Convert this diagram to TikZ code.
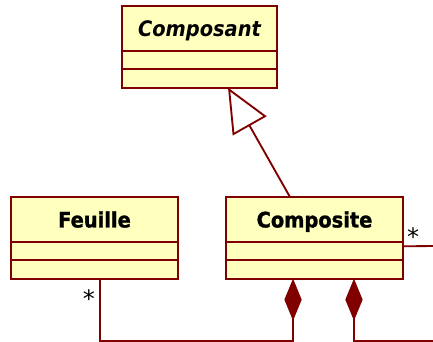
\documentclass[tikz,border=0pt]{standalone}
\usepackage{fontspec}
\setmainfont{DejaVu Sans}
\newfontfamily\umlfont[FakeStretch=0.91,BoldFeatures={FakeBold=1.2}]{DejaVu Sans}
\usepackage{tikz}
\usetikzlibrary{arrows.meta,positioning}
\definecolor{umlred}{HTML}{800000}
\definecolor{umlfill}{HTML}{FFFFBE}
\tikzset{
  cls/.style={draw=umlred,line width=1.4pt,fill=umlfill,outer sep=0pt,inner sep=0pt,
    minimum height=34pt,text height=11.7pt,text depth=0pt,
    font=\umlfont\fontsize{16}{18}\selectfont\bfseries},
  clsa/.style={cls,minimum height=13pt},
  clso/.style={cls,minimum height=14.25pt},
  assoc/.style={draw=umlred,line width=1.4pt},
  inherit/.style={assoc,-{Triangle[open,length=33pt,width=29pt]}},
  compo/.style={assoc,{Diamond[fill=umlred,length=31.5pt,width=13pt]}-},
  mult/.style={font=\fontsize{18}{20}\selectfont,inner sep=0pt},
}
\begin{document}
\begin{tikzpicture}[x=0.75pt,y=-0.75pt]
  \useasboundingbox (0,0) rectangle (433,342);
  % --- classes: name / attributes / operations ---
  \node[cls,minimum width=116.25pt,anchor=north west] (composant) at (122,6) {\itshape Composant};
  \node[clsa,minimum width=116.25pt,below=0pt of composant] (composant-a) {};
  \node[clso,minimum width=116.25pt,below=0pt of composant-a] (composant-o) {};
  \node[cls,minimum width=125.25pt,anchor=north west] (feuille) at (11,197) {Feuille};
  \node[clsa,minimum width=125.25pt,below=0pt of feuille] (feuille-a) {};
  \node[clso,minimum width=125.25pt,below=0pt of feuille-a] (feuille-o) {};
  \node[cls,minimum width=132.75pt,anchor=north west] (composite) at (226,197) {Composite};
  \node[clsa,minimum width=132.75pt,below=0pt of composite] (composite-a) {};
  \node[clso,minimum width=132.75pt,below=0pt of composite-a] (composite-o) {};
  \coordinate (edgeR) at (433,246);
  \coordinate (edgeB) at (433,341);
  \draw[inherit] ([xshift=-18.4pt]composite.north) -- ([xshift=21.4pt]composant-o.south);
  \draw[assoc] ([yshift=-3pt]composite-a.north east) -- (edgeR);
  \draw[compo] ([xshift=-16.1pt]composite-o.south) -- ++(0,62) -| ([xshift=4.1pt]feuille-o.south);
  \draw[compo] ([xshift=29.6pt]composite-o.south) |- (edgeB);
  \node[mult] (multF) at (89,299) {*};
  \node[mult] (multC) at (413,237) {*};
\end{tikzpicture}
\end{document}
